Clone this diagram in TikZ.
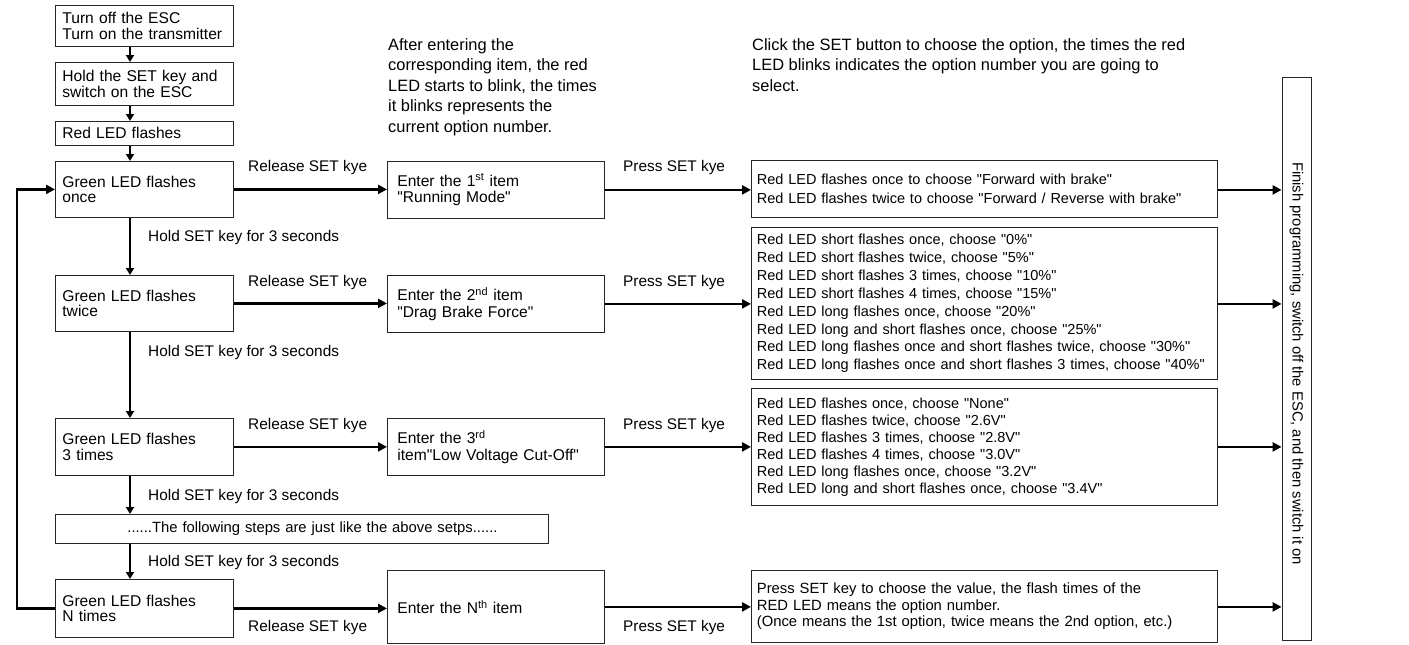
\documentclass[tikz,border=0pt]{standalone}
\usepackage{fontspec}
\setmainfont{Liberation Sans}
\newfontfamily\libsans{Liberation Sans}
\newcommand{\setfs}[2]{\libsans\fontsize{#1}{#2}\selectfont}
\usetikzlibrary{arrows.meta}
\begin{document}
\begin{tikzpicture}[x=1pt,y=-1pt,
  box/.style={draw=black!85, line width=0.8pt, anchor=north west, inner xsep=7pt, inner ysep=0pt, align=left},
  lbox/.style={box, text width=164pt, inner xsep=7pt, font=\setfs{15.6}{15.6}},
  mbox/.style={box, minimum height=57pt, text width=197pt, inner xsep=10pt, font=\setfs{15.6}{16.7}},
  rbox/.style={box, text width=455pt, inner xsep=5.5pt, font=\setfs{14.5}{17.9}},
  arr/.style={line width=2.8pt, -{Triangle[length=9pt,width=9pt]}},
  varr/.style={line width=2.8pt, -{Triangle[length=7pt,width=8pt]}},
  lab/.style={anchor=west, inner sep=0pt, font=\setfs{15.4}{16}},
  note/.style={anchor=north west, align=left, inner sep=0pt, font=\setfs{16.4}{20.5}},
]
\useasboundingbox[fill=white] (0,0) rectangle (1409,645);
\coordinate (spine) at (130,0);
\coordinate (loop) at (17,0);

% left column
\node[lbox, minimum height=41pt] (a) at (55,5) {Turn off the ESC\\Turn on the transmitter};
\node[lbox, minimum height=43pt] (b) at (55,62) {Hold the SET key and\\switch on the ESC};
\node[lbox, minimum height=24pt] (c) at (55,121) {Red LED flashes};
\node[lbox, minimum height=56pt] (d) at (55,161) {Green LED flashes\\once};
\node[lbox, minimum height=56pt] (e) at (55,275) {Green LED flashes\\twice};
\node[lbox, minimum height=57pt] (f) at (55,418) {Green LED flashes\\3 times};
\node[box, minimum height=29pt, text width=493pt, inner xsep=0pt, font=\setfs{14.8}{16}] (dots) at (55,514) {\hspace*{72pt}......The following steps are just like the above setps......};
\node[lbox, minimum height=58pt] (g) at (55,579) {Green LED flashes\\N times};

% middle column
\node[mbox] (m1) at (387,161) {Enter the 1\textsuperscript{st} item\\"Running Mode"};
\node[mbox] (m2) at (387,275) {Enter the 2\textsuperscript{nd} item\\"Drag Brake Force"};
\node[mbox] (m3) at (387,418) {Enter the 3\textsuperscript{rd}\\item"Low Voltage Cut-Off"};
\node[mbox, minimum height=73pt] (m4) at (387,570) {Enter the N\textsuperscript{th} item};

% right column
\node[rbox, minimum height=57pt, font=\setfs{14.5}{19}] (r1) at (751,160) {Red LED flashes once to choose "Forward with brake"\\Red LED flashes twice to choose "Forward / Reverse with brake"};
\node[rbox, minimum height=152pt] (r2) at (751,227) {Red LED short flashes once, choose "0\%"\\Red LED short flashes twice, choose "5\%"\\Red LED short flashes 3 times, choose "10\%"\\Red LED short flashes 4 times, choose "15\%"\\Red LED long flashes once, choose "20\%"\\Red LED long and short flashes once, choose "25\%"\\Red LED long flashes once and short flashes twice, choose "30\%"\\Red LED long flashes once and short flashes 3 times, choose "40\%"};
\node[rbox, minimum height=117pt, font=\setfs{14.5}{17}] (r3) at (751,388) {Red LED flashes once, choose "None"\\Red LED flashes twice, choose "2.6V"\\Red LED flashes 3 times, choose "2.8V"\\Red LED flashes 4 times, choose "3.0V"\\Red LED long flashes once, choose "3.2V"\\Red LED long and short flashes once, choose "3.4V"};
\node[rbox, minimum height=72pt, font=\setfs{14.8}{16.7}] (r4) at (751,570) {Press SET key to choose the value, the flash times of the\\RED LED means the option number.\\(Once means the 1st option, twice means the 2nd option, etc.)};

% final box
\node[box, anchor=center, rotate=-90, minimum width=563pt, minimum height=29pt, inner sep=0pt, align=center, font=\setfs{14.8}{16}] (fin) at (1296.5,358.5) {\hspace*{10pt}Finish programming, switch off the ESC, and then switch it on};

% notes
\node[note] (n1) at (388,38) {After entering the\\corresponding item, the red\\LED starts to blink, the times\\it blinks represents the\\current option number.};
\node[note] (n2) at (752,38) {Click the SET button to choose the option, the times the red\\LED blinks indicates the option number you are going to\\select.};

% labels
\node[lab] (h1) at (148,238) {Hold SET key for 3 seconds};
\node[lab] (h2) at (148,353) {Hold SET key for 3 seconds};
\node[lab] (h3) at (148,497) {Hold SET key for 3 seconds};
\node[lab] (h4) at (148,563) {Hold SET key for 3 seconds};
\node[lab] (rl1) at (248,168) {Release SET kye};
\node[lab] (rl2) at (248,283) {Release SET kye};
\node[lab] (rl3) at (248,426) {Release SET kye};
\node[lab] (rl4) at (248,628) {Release SET kye};
\node[lab] (p1) at (623,168) {Press SET kye};
\node[lab] (p2) at (623,283) {Press SET kye};
\node[lab] (p3) at (623,426) {Press SET kye};
\node[lab] (p4) at (623,628) {Press SET kye};

% vertical connectors
\draw[varr] (a.south -| spine) -- (b.north -| spine);
\draw[varr] (b.south -| spine) -- (c.north -| spine);
\draw[varr] (c.south -| spine) -- (d.north -| spine);
\draw[varr] (d.south -| spine) -- (e.north -| spine);
\draw[varr] (e.south -| spine) -- (f.north -| spine);
\draw[varr] (f.south -| spine) -- (dots.north -| spine);
\draw[varr] (dots.south -| spine) -- (g.north -| spine);

% horizontal connectors
\draw[arr] (d.east) -- (d.east -| m1.west);
\draw[arr] (e.east) -- (e.east -| m2.west);
\draw[arr] (f.east) -- (f.east -| m3.west);
\draw[arr] (g.east) -- (g.east -| m4.west);
\draw[arr] (m1.east) -- (m1.east -| r1.west);
\draw[arr] (m2.east) -- (m2.east -| r2.west);
\draw[arr] (m3.east) -- (m3.east -| r3.west);
\draw[arr] (m4.east) -- (m4.east -| r4.west);
\draw[arr] (m1.east -| r1.east) -- (m1.east -| fin.south);
\draw[arr] (m2.east -| r2.east) -- (m2.east -| fin.south);
\draw[arr] (m3.east -| r3.east) -- (m3.east -| fin.south);
\draw[arr] (m4.east -| r4.east) -- (m4.east -| fin.south);

% loop back
\draw[arr, line join=miter] (g.west) -- (g.west -| loop) |- (d.west);
\end{tikzpicture}
\end{document}
